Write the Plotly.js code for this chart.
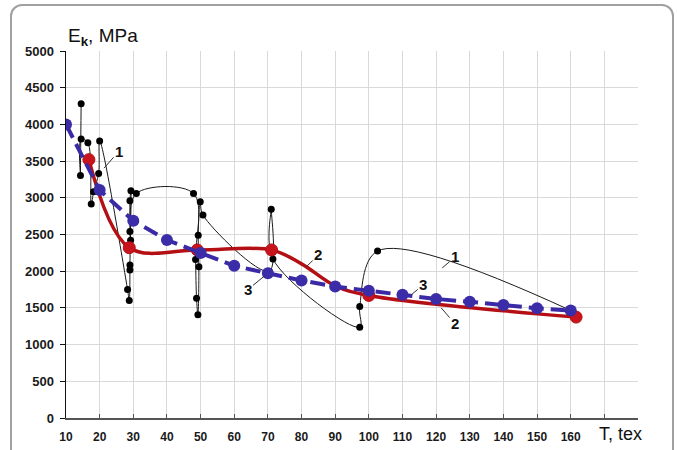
<!DOCTYPE html>
<html>
<head>
<meta charset="utf-8">
<script src="https://cdn.plot.ly/plotly-3.0.1.min.js"></script>
<style>
  html, body { margin: 0; padding: 0; background: #ffffff; }
  #wrap { position: relative; width: 678px; height: 450px; overflow: hidden; }
  #frame { position: absolute; left: 10px; top: 4px; width: 664px; height: 470px;
           border: 2px solid #a0a0a0; border-radius: 12px; box-sizing: border-box; }
  #chart { position: absolute; left: 0; top: 0; width: 678px; height: 450px; }
</style>
</head>
<body>
<div id="wrap"><div id="frame"></div><div id="chart"></div></div>
<script>
// Series 1 (black, measured points joined by smooth line)
const s1X = [14.5, 14.3, 14.5, 16.5, 17.5, 18.2, 19.7, 20.0, 28.3, 28.8, 29.0, 29.0, 29.3, 29.0, 29.2, 29.0, 30.9, 47.9, 48.5, 48.8, 49.2, 49.5, 49.3, 49.9, 50.7, 70.4, 71.0, 71.5, 97.3, 97.3, 102.6, 160];
const s1Y = [4280, 3305, 3800, 3750, 2914, 3082, 3332, 3775, 1750, 1600, 2017, 2085, 3096, 2960, 2420, 2540, 3060, 3060, 2160, 1630, 1405, 2060, 2490, 2946, 2765, 2000, 2845, 2166, 1238, 1518, 2275, 1465];
// Series 2 (red smooth curve); markers only on the marked points
const s2X = [16.8, 28.8, 49.0, 71.1, 80, 90, 100, 161.6];
const s2Y = [3520, 2320, 2290, 2290, 2100, 1800, 1670, 1375];
const s2Marked = [true, true, true, true, false, false, true, true];
// Series 3 (blue dashed)
const s3X = [10, 20, 30, 40, 50, 60, 70, 80, 90, 100, 110, 120, 130, 140, 150, 160];
const s3Y = [4000, 3105, 2687, 2425, 2248, 2073, 1972, 1874, 1790, 1733, 1679, 1622, 1583, 1538, 1494, 1465];
// Axis ticks
const xTickVals = [10, 20, 30, 40, 50, 60, 70, 80, 90, 100, 110, 120, 130, 140, 150, 160, 170, 180];
const xTickText = ['10','20','30','40','50','60','70','80','90','100','110','120','130','140','150','160','',''];
const yTickVals = [0, 500, 1000, 1500, 2000, 2500, 3000, 3500, 4000, 4500, 5000];
const yTickText = ['0','500','1000','1500','2000','2500','3000','3500','4000','4500','5000'];
// Curve labels
const labelText = ['1', '1', '2', '2', '3', '3'];
const labelX = [21.3, 121.8, 81.4, 121.5, 69.0, 112.6];
const labelY = [3404, 2044, 2058, 1500, 1936, 1678];

const FONT = 'Arial, "Liberation Sans", sans-serif';

const traces = [
  { x: s1X, y: s1Y, type: 'scatter', mode: 'lines+markers',
    line: { color: '#1a1a1a', width: 1, shape: 'spline', smoothing: 1 },
    marker: { color: '#000000', size: 7, opacity: 1 }, hoverinfo: 'none' },
  { x: s2X, y: s2Y, type: 'scatter', mode: 'lines+markers',
    line: { color: '#b40f14', width: 3.5, shape: 'spline', smoothing: 1 },
    marker: { color: '#c8141c', opacity: 1, size: s2Marked.map(m => m ? 12 : 0) }, hoverinfo: 'none' },
  { x: s3X, y: s3Y, type: 'scatter', mode: 'lines+markers',
    line: { color: '#3a2aa6', width: 4, dash: '15px,7px' },
    marker: { color: '#3b2ca8', size: 12, opacity: 1 }, hoverinfo: 'none' }
];

const offsets = [[15,-17],[13,-11],[12,-12],[14,16],[-17,14],[12,-10]];
const annotations = labelText.map((t, i) => ({
  x: labelX[i], y: labelY[i], xref: 'x', yref: 'y', text: '<b>' + t + '</b>',
  showarrow: true, arrowhead: 0, arrowwidth: 1, arrowcolor: '#333',
  ax: offsets[i][0], ay: offsets[i][1],
  font: { family: FONT, size: 15, color: '#111' }
}));
annotations.push({
  xref: 'paper', yref: 'paper', x: 0.0, y: 1.0, xanchor: 'left', yanchor: 'bottom', yshift: 0,
  showarrow: false, text: 'E<sub><b>k</b></sub>, MPa',
  font: { family: FONT, size: 19, color: '#111' }
});
annotations.push({
  xref: 'paper', yref: 'paper', x: 0.928, y: -0.044, xanchor: 'left', yanchor: 'middle',
  showarrow: false, text: 'T, tex',
  font: { family: FONT, size: 18, color: '#111' }
});

const layout = {
  width: 678, height: 450,
  margin: { l: 66, r: 40, t: 51, b: 32 },
  paper_bgcolor: 'rgba(0,0,0,0)', plot_bgcolor: 'rgba(0,0,0,0)',
  showlegend: false,
  xaxis: {
    range: [10, 180], tickmode: 'array', tickvals: xTickVals, ticktext: xTickText,
    showgrid: true, gridcolor: '#d9d9d9', gridwidth: 1,
    zeroline: false, showline: true, linecolor: '#555555', linewidth: 2,
    ticks: 'inside', ticklen: 4, tickcolor: '#555555', ticklabelstandoff: 7,
    tickfont: { family: FONT, size: 12, color: '#1a1a1a', weight: 'bold' }
  },
  yaxis: {
    range: [0, 5000], tickmode: 'array', tickvals: yTickVals, ticktext: yTickText,
    showgrid: true, gridcolor: '#d9d9d9', gridwidth: 1,
    zeroline: false, showline: true, linecolor: '#111111', linewidth: 1.5,
    ticks: 'outside', ticklen: 5, tickcolor: '#111111', ticklabelstandoff: 3,
    tickfont: { family: FONT, size: 13, color: '#1a1a1a', weight: 'bold' }
  },
  annotations: annotations
};

Plotly.newPlot('chart', traces, layout, { staticPlot: true, displayModeBar: false });
</script>
</body>
</html>
